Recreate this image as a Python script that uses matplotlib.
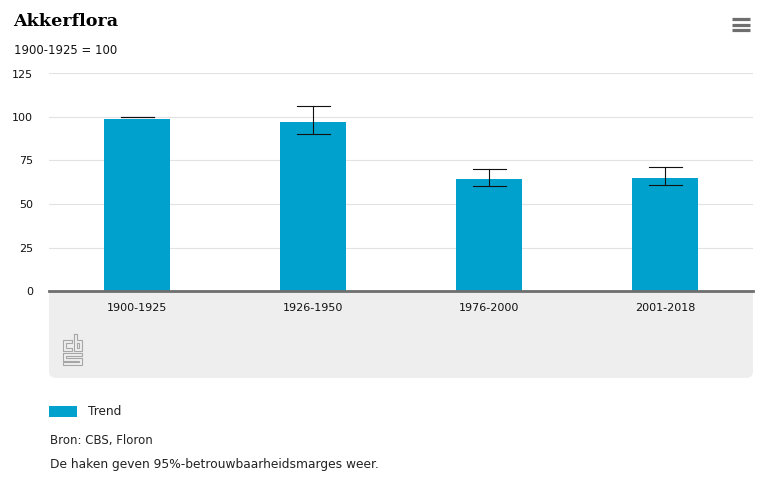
import matplotlib
matplotlib.use('Agg')
import matplotlib.pyplot as plt
from matplotlib.patches import FancyBboxPatch, Rectangle

periods = ['1900-1925', '1926-1950', '1976-2000', '2001-2018']
trend = [99.1, 97, 64.4, 65]
err_low = [100, 90, 60.3, 61]
err_high = [100, 106.3, 70.2, 71.2]
yticks = [0, 25, 50, 75, 100, 125]

W, H = 767, 486
BAR_COLOR = '#00a1cd'
TEXT_COLOR = '#111111'
FONT = 'DejaVu Sans'

fig = plt.figure(figsize=(W / 100, H / 100), dpi=100, facecolor='white')

# overlay in pixel coordinates, for everything outside the plot area
bg = fig.add_axes([0, 0, 1, 1], zorder=0)
bg.set_xlim(0, W)
bg.set_ylim(H, 0)
bg.axis('off')

bg.add_patch(Rectangle((49, 291), 704, 78, fc='#eeeeee', ec='none'))
bg.add_patch(FancyBboxPatch((49, 300), 704, 78, boxstyle='round,pad=0,rounding_size=7',
                            fc='#eeeeee', ec='none'))

# cbs logo, drawn as thin outlines
logo = '#a6a6a6'
logo_lines = [
    # c
    [(72, 340), (63, 340), (63, 351), (72, 351), (72, 348), (66, 348), (66, 343), (72, 343), (72, 340)],
    # b
    [(74, 334), (77, 334), (77, 340), (82, 340), (82, 351), (74, 351), (74, 334)],
    [(77, 343), (79, 343), (79, 348), (77, 348), (77, 343)],
    # s
    [(63, 353), (82, 353), (82, 356), (66, 356), (66, 358), (82, 358), (82, 365), (63, 365),
     (63, 362), (79, 362), (79, 361), (63, 361), (63, 353)],
]
for pts in logo_lines:
    bg.plot([p[0] for p in pts], [p[1] for p in pts], color=logo, lw=0.8, solid_joinstyle='miter')

# menu icon
for y in [19, 24.7, 30.2]:
    bg.plot([732, 750], [y, y], color='#6e6e6e', lw=2.3, solid_capstyle='butt')

bg.text(13, 22, 'Akkerflora', fontsize=12.6, fontweight='bold', family='DejaVu Serif',
        color='black', va='center', ha='left')
bg.text(13.5, 50, '1900-1925 = 100', fontsize=8.4, family=FONT, color=TEXT_COLOR, va='center')

bg.add_patch(Rectangle((49, 406), 28, 11, fc=BAR_COLOR, ec='none'))
bg.text(88, 411.5, 'Trend', fontsize=8.7, family=FONT, color='#222222', va='center')
bg.text(50, 440.5, 'Bron: CBS, Floron', fontsize=8.5, family=FONT, color='#222222', va='center')
bg.text(50, 464.5, 'De haken geven 95%-betrouwbaarheidsmarges weer.', fontsize=8.8, family=FONT,
        color='#222222', va='center')

# plot area: y 0 at 291 px, y 125 at 73.5 px
ax = fig.add_axes([49 / W, (H - 291) / H, 704 / W, 217.5 / H], zorder=1)
ax.patch.set_alpha(0)
x = list(range(len(periods)))
ax.bar(x, trend, width=66 / 176, color=BAR_COLOR, edgecolor='none', zorder=2)
for i in x:
    ax.plot([i, i], [err_low[i], err_high[i]], color='#111111', lw=0.8, zorder=3)
    ax.plot([i - 16.5 / 176, i + 16.5 / 176], [err_high[i], err_high[i]], color='#111111', lw=0.8, zorder=3)
    ax.plot([i - 16.5 / 176, i + 16.5 / 176], [err_low[i], err_low[i]], color='#111111', lw=0.8, zorder=3)

ax.set_xlim(-0.5, 3.5)
ax.set_ylim(0, 125)
ax.set_yticks(yticks)
ax.set_xticks(x)
ax.set_xticklabels(periods, fontsize=8, family=FONT, color=TEXT_COLOR)
ax.set_yticklabels([str(v) for v in yticks], fontsize=8, family=FONT, color=TEXT_COLOR)
ax.yaxis.grid(True, color='#e2e2e2', lw=0.8, zorder=1)
ax.set_axisbelow(True)
ax.tick_params(axis='x', length=0, pad=8.7)
ax.tick_params(axis='y', length=0, pad=11.5)
for side in ['top', 'left', 'right']:
    ax.spines[side].set_visible(False)
ax.spines['bottom'].set_color('#6e6e6e')
ax.spines['bottom'].set_linewidth(2)
ax.spines['bottom'].set_zorder(4)

fig.savefig('out.png', dpi=100)
